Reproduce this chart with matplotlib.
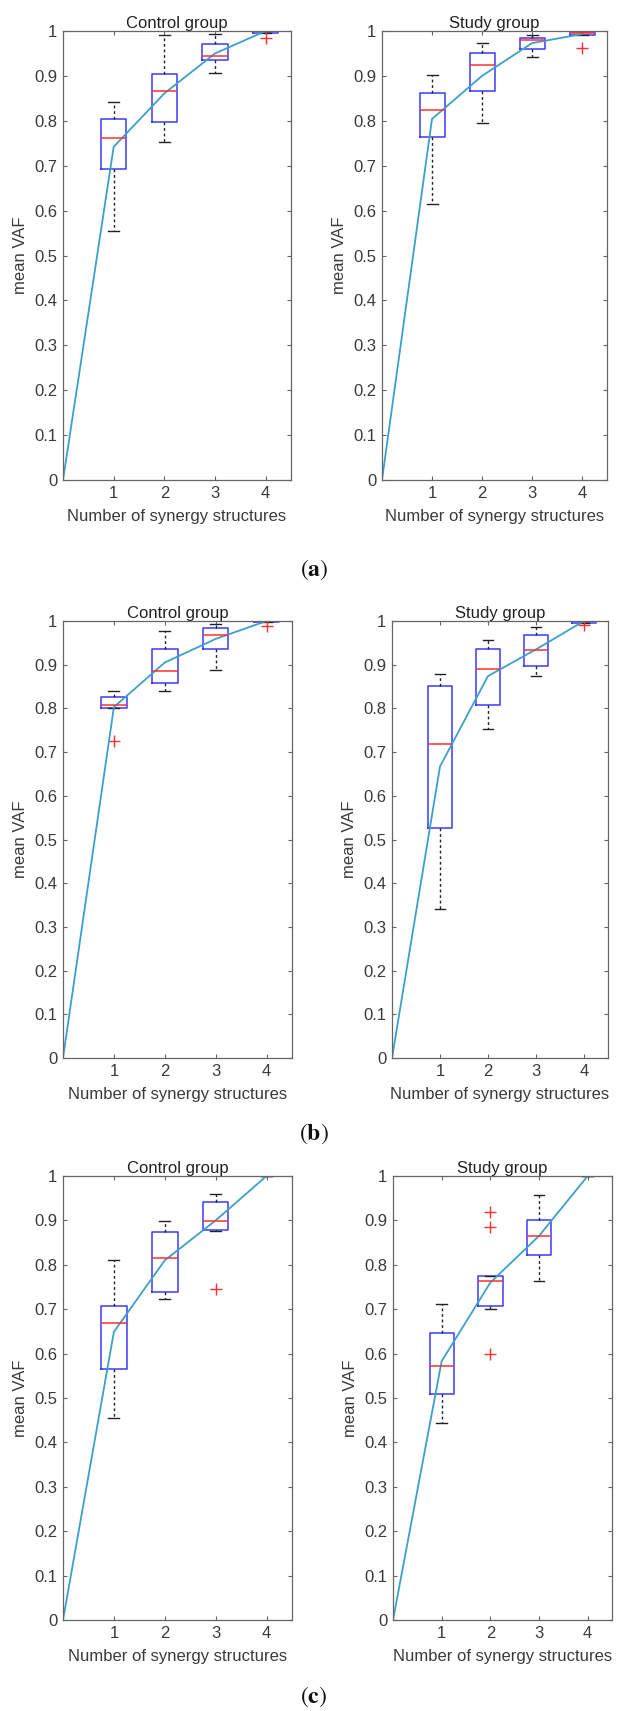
import matplotlib.pyplot as plt

plt.rcParams['font.family'] = ['Liberation Sans', 'DejaVu Sans']
plt.rcParams['mathtext.fontset'] = 'stix'

positions = [1, 2, 3, 4]
mean_x = [0, 1, 2, 3, 4]
yticks = [0, 0.1, 0.2, 0.3, 0.4, 0.5, 0.6, 0.7, 0.8, 0.9, 1]
ytick_labels = ['0', '0.1', '0.2', '0.3', '0.4', '0.5', '0.6', '0.7', '0.8', '0.9', '1']

# (a) control group
a_ctrl_med = [0.762, 0.867, 0.944, 0.999]
a_ctrl_q1 = [0.693, 0.798, 0.935, 0.995]
a_ctrl_q3 = [0.805, 0.905, 0.972, 1.0]
a_ctrl_lo = [0.555, 0.753, 0.907, 0.995]
a_ctrl_hi = [0.841, 0.990, 0.994, 1.0]
a_ctrl_out = [[], [], [], [0.985]]
a_ctrl_mean = [0, 0.742, 0.861, 0.950, 1.0]

# (a) study group
a_stud_med = [0.824, 0.924, 0.979, 0.995]
a_stud_q1 = [0.763, 0.867, 0.960, 0.990]
a_stud_q3 = [0.861, 0.951, 0.985, 0.998]
a_stud_lo = [0.615, 0.794, 0.941, 0.990]
a_stud_hi = [0.901, 0.973, 0.992, 1.0]
a_stud_out = [[], [], [], [0.962]]
a_stud_mean = [0, 0.804, 0.900, 0.973, 0.993]

# (b) control group
b_ctrl_med = [0.807, 0.886, 0.968, 0.999]
b_ctrl_q1 = [0.800, 0.859, 0.936, 0.997]
b_ctrl_q3 = [0.825, 0.936, 0.985, 1.0]
b_ctrl_lo = [0.800, 0.840, 0.888, 0.997]
b_ctrl_hi = [0.840, 0.978, 0.994, 1.0]
b_ctrl_out = [[0.726], [], [], [0.988]]
b_ctrl_mean = [0, 0.803, 0.905, 0.959, 1.0]

# (b) study group
b_stud_med = [0.719, 0.890, 0.933, 0.999]
b_stud_q1 = [0.527, 0.807, 0.898, 0.996]
b_stud_q3 = [0.851, 0.935, 0.969, 1.0]
b_stud_lo = [0.340, 0.752, 0.873, 0.996]
b_stud_hi = [0.878, 0.957, 0.986, 1.0]
b_stud_out = [[], [], [], [0.990]]
b_stud_mean = [0, 0.667, 0.874, 0.935, 1.0]

# (c) control group
c_ctrl_med = [0.669, 0.815, 0.899, 1.0]
c_ctrl_q1 = [0.565, 0.738, 0.878, 0.999]
c_ctrl_q3 = [0.707, 0.875, 0.941, 1.0]
c_ctrl_lo = [0.455, 0.724, 0.876, 0.999]
c_ctrl_hi = [0.811, 0.898, 0.960, 1.0]
c_ctrl_out = [[], [], [0.745], []]
c_ctrl_mean = [0, 0.649, 0.810, 0.900, 1.0]

# (c) study group
c_stud_med = [0.571, 0.764, 0.864, 1.0]
c_stud_q1 = [0.510, 0.707, 0.821, 0.999]
c_stud_q3 = [0.647, 0.774, 0.900, 1.0]
c_stud_lo = [0.443, 0.700, 0.764, 0.999]
c_stud_hi = [0.711, 0.775, 0.957, 1.0]
c_stud_out = [[], [0.919, 0.885, 0.598], [], []]
c_stud_mean = [0, 0.583, 0.760, 0.865, 1.0]

W, H = 617, 1711
fig = plt.figure(figsize=(W / 100, H / 100), dpi=100)

TXT = '#3a3a3a'
SPINE = '#666666'


def make_stats(med, q1, q3, lo, hi, out):
    stats = []
    for i in range(len(med)):
        stats.append({'med': med[i], 'q1': q1[i], 'q3': q3[i],
                      'whislo': lo[i], 'whishi': hi[i], 'fliers': out[i]})
    return stats


def panel(rect, title, stats, mean_y):
    x0, x1, y0, y1 = rect
    ax = fig.add_axes([x0 / W, 1 - y1 / H, (x1 - x0) / W, (y1 - y0) / H])
    ax.bxp(stats, positions=positions, widths=0.5, showfliers=True,
           boxprops=dict(color='#3a3aff', lw=1.1),
           medianprops=dict(color='#ff3030', lw=1.1),
           whiskerprops=dict(color='#222222', lw=1.0, linestyle=(0, (2, 2))),
           capprops=dict(color='#222222', lw=1.0),
           capwidths=0.22,
           flierprops=dict(marker='+', markeredgecolor='#ff3030',
                           markersize=8, markeredgewidth=1.0))
    ax.plot(mean_x, mean_y, color='#3d9fca', lw=1.3)
    ax.set_xlim(0, 4.5)
    ax.set_ylim(0, 1)
    ax.set_xticks(positions)
    ax.set_xticklabels(['1', '2', '3', '4'])
    ax.set_yticks(yticks)
    ax.set_yticklabels(ytick_labels)
    ax.tick_params(direction='in', length=3, top=True, right=True,
                   labelsize=12, colors=SPINE, labelcolor=TXT, pad=4)
    for s in ax.spines.values():
        s.set_color(SPINE)
        s.set_linewidth(0.9)
    ax.set_title(title, fontsize=12, color='#222222', pad=2)
    hpx = y1 - y0
    wpx = x1 - x0
    ax.set_xlabel('Number of synergy structures', fontsize=12, color=TXT)
    ax.xaxis.set_label_coords(0.5, -29 / hpx)
    ax.set_ylabel('mean VAF', fontsize=12, color=TXT)
    ax.yaxis.set_label_coords(-35 / wpx, 0.5)
    return ax


panel((63, 291, 31, 480), 'Control group',
      make_stats(a_ctrl_med, a_ctrl_q1, a_ctrl_q3, a_ctrl_lo, a_ctrl_hi, a_ctrl_out), a_ctrl_mean)
panel((382, 607, 31, 480), 'Study group',
      make_stats(a_stud_med, a_stud_q1, a_stud_q3, a_stud_lo, a_stud_hi, a_stud_out), a_stud_mean)
panel((63, 292, 621, 1058), 'Control group',
      make_stats(b_ctrl_med, b_ctrl_q1, b_ctrl_q3, b_ctrl_lo, b_ctrl_hi, b_ctrl_out), b_ctrl_mean)
panel((392, 608, 621, 1058), 'Study group',
      make_stats(b_stud_med, b_stud_q1, b_stud_q3, b_stud_lo, b_stud_hi, b_stud_out), b_stud_mean)
panel((63, 292, 1176, 1620), 'Control group',
      make_stats(c_ctrl_med, c_ctrl_q1, c_ctrl_q3, c_ctrl_lo, c_ctrl_hi, c_ctrl_out), c_ctrl_mean)
panel((393, 612, 1176, 1620), 'Study group',
      make_stats(c_stud_med, c_stud_q1, c_stud_q3, c_stud_lo, c_stud_hi, c_stud_out), c_stud_mean)

for lab, ypx in [('a', 570), ('b', 1134), ('c', 1697)]:
    fig.text(314 / W, 1 - ypx / H, r'$(\mathbf{' + lab + r'})$', fontsize=17,
             ha='center', va='center', color='#111111')

fig.savefig('out.png', dpi=100)
